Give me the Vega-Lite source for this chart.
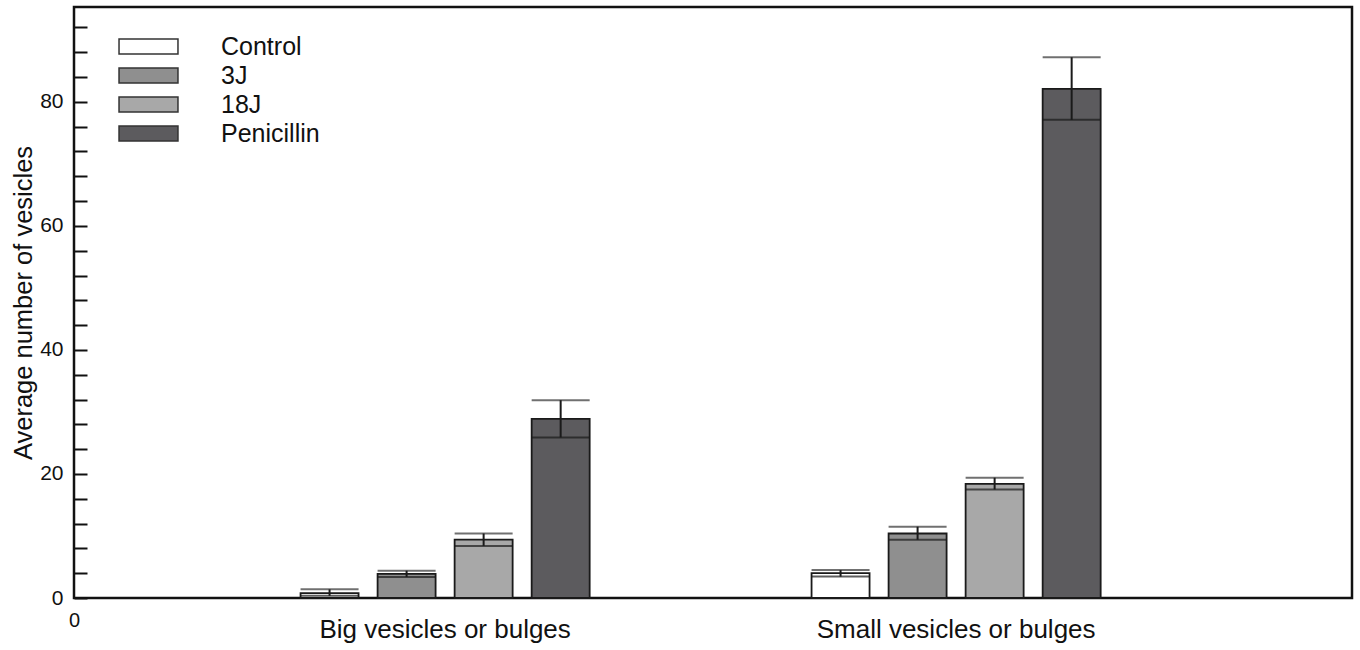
{
  "$schema": "https://vega.github.io/schema/vega-lite/v6.json",
  "width": 1278,
  "height": 591,
  "autosize": "none",
  "padding": {"left": 74, "top": 7, "right": 8, "bottom": 52},
  "background": "white",
  "config": {
    "font": "Liberation Sans",
    "view": {"stroke": "#111111", "strokeWidth": 2.5}
  },
  "data": {
    "values": [
      {"group": "Big vesicles or bulges", "treatment": "Control", "mean": 0.8, "lo": 0.35, "hi": 1.4},
      {"group": "Big vesicles or bulges", "treatment": "3J", "mean": 3.9, "lo": 3.4, "hi": 4.4},
      {"group": "Big vesicles or bulges", "treatment": "18J", "mean": 9.4, "lo": 8.4, "hi": 10.4},
      {"group": "Big vesicles or bulges", "treatment": "Penicillin", "mean": 28.9, "lo": 25.9, "hi": 31.9},
      {"group": "Small vesicles or bulges", "treatment": "Control", "mean": 4.0, "lo": 3.45, "hi": 4.5},
      {"group": "Small vesicles or bulges", "treatment": "3J", "mean": 10.4, "lo": 9.4, "hi": 11.5},
      {"group": "Small vesicles or bulges", "treatment": "18J", "mean": 18.4, "lo": 17.5, "hi": 19.4},
      {"group": "Small vesicles or bulges", "treatment": "Penicillin", "mean": 82.1, "lo": 77.1, "hi": 87.2}
    ]
  },
  "layer": [
    {
      "encoding": {
        "x": {
          "field": "group", "type": "nominal",
          "sort": ["Big vesicles or bulges", "Small vesicles or bulges"],
          "scale": {"paddingInner": 0.397, "paddingOuter": 0.449, "align": 0.473},
          "axis": {"title": null, "labelFontSize": 26, "labelColor": "#111111", "labelLimit": 0, "ticks": false, "domain": false, "labelPadding": 18, "labelAngle": 0}
        },
        "xOffset": {
          "field": "treatment", "type": "nominal",
          "sort": ["Control", "3J", "18J", "Penicillin"],
          "scale": {"paddingInner": 0.247, "paddingOuter": 0.1235}
        },
        "y": {
          "type": "quantitative",
          "scale": {"domain": [0, 95.3], "nice": false, "zero": true},
          "axis": {
            "title": "Average number of vesicles",
            "titleFontSize": 25.5, "titleFontWeight": "normal", "titleColor": "#111111", "titlePadding": 3,
            "values": [0, 4, 8, 12, 16, 20, 24, 28, 32, 36, 40, 44, 48, 52, 56, 60, 64, 68, 72, 76, 80, 84, 88, 92],
            "labelExpr": "datum.value % 20 === 0 ? datum.label : ''",
            "labelFontSize": 21, "labelColor": "#111111", "labelPadding": 24, "labelOverlap": false,
            "tickSize": -13, "tickColor": "#111111", "tickWidth": 2,
            "domain": false, "grid": false,
            "encode": {"ticks": {"update": {"x2": {"signal": "datum.value % 20 === 0 ? 13 : 6"}}}}
          }
        }
      },
      "layer": [
        {
          "mark": {"type": "bar", "stroke": "#1a1a1a", "strokeWidth": 1.8},
          "encoding": {
            "y": {"field": "mean", "type": "quantitative"},
            "color": {
              "field": "treatment", "type": "nominal",
              "scale": {"domain": ["Control", "3J", "18J", "Penicillin"], "range": ["#ffffff", "#8f8f8f", "#a8a8a8", "#5c5b5e"]},
              "legend": {
                "title": null, "orient": "none", "legendX": 62, "legendY": 27,
                "padding": 0, "rowPadding": 3,
                "symbolType": "M-3.93,-1H3.93V1H-3.93Z", "symbolSize": 225,
                "symbolStrokeColor": "#333333", "symbolStrokeWidth": 1.5, "symbolOpacity": 1,
                "labelFontSize": 25, "labelColor": "#111111", "labelOffset": 60
              }
            }
          }
        },
        {
          "mark": {"type": "tick", "orient": "horizontal", "size": 58, "thickness": 2, "color": "#333333"},
          "encoding": {"y": {"field": "hi", "type": "quantitative"}}
        },
        {
          "mark": {"type": "tick", "orient": "horizontal", "size": 58, "thickness": 2, "color": "#1a1a1a"},
          "encoding": {"y": {"field": "lo", "type": "quantitative"}}
        },
        {
          "mark": {"type": "rule", "strokeWidth": 2, "color": "#1a1a1a"},
          "encoding": {"y": {"field": "lo", "type": "quantitative"}, "y2": {"field": "hi"}}
        }
      ]
    },
    {
      "mark": {"type": "rule", "strokeOpacity": 0},
      "encoding": {
        "x": {
          "datum": 0, "type": "quantitative",
          "scale": {"domain": [0, 1], "nice": false},
          "axis": {"orient": "bottom", "values": [0], "title": null, "ticks": false, "domain": false, "grid": false, "labelFontSize": 20, "labelColor": "#111111", "labelPadding": 12, "labelFlush": false}
        }
      }
    }
  ],
  "resolve": {"scale": {"x": "independent"}, "axis": {"x": "independent"}}
}
